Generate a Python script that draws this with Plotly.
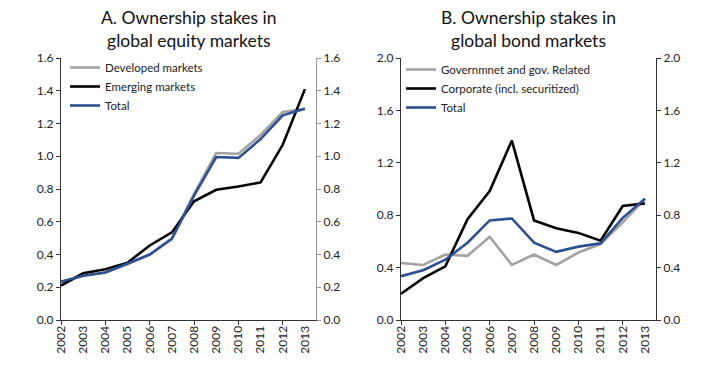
import plotly.graph_objects as go

years = list(range(2002, 2014))

# Panel A: equity
eq_developed = [0.23, 0.27, 0.29, 0.34, 0.40, 0.50, 0.77, 1.02, 1.015, 1.13, 1.27, 1.29]
eq_emerging  = [0.21, 0.285, 0.31, 0.35, 0.455, 0.535, 0.725, 0.795, 0.815, 0.84, 1.07, 1.41]
eq_total     = [0.235, 0.27, 0.29, 0.345, 0.40, 0.495, 0.76, 0.995, 0.99, 1.105, 1.25, 1.29]

# Panel B: bonds
bd_government = [0.435, 0.42, 0.50, 0.49, 0.635, 0.42, 0.50, 0.42, 0.515, 0.58, 0.745, 0.925]
bd_corporate  = [0.20, 0.32, 0.41, 0.77, 0.985, 1.37, 0.76, 0.70, 0.665, 0.605, 0.87, 0.89]
bd_total      = [0.335, 0.38, 0.46, 0.59, 0.76, 0.775, 0.59, 0.52, 0.56, 0.585, 0.78, 0.925]

titles = ["A. Ownership stakes in<br>global equity markets",
          "B. Ownership stakes in<br>global bond markets"]

GRAY = "#A3A3A3"
BLACK = "#000000"
BLUE = "#2D5092"
FONT = "Lato"
OFF = 8                      # page body margin
W, H = 719 - OFF, 369 - OFF

def fx(px):  # screen x pixel -> paper fraction
    return (px - OFF) / W

def fy(py):  # screen y pixel (from top) -> paper fraction
    return 1 - (py - OFF) / H

fig = go.Figure()

def add(x, y, name, color, xa, ya, legend):
    fig.add_trace(go.Scatter(x=x, y=y, name=name, mode="lines",
                             line=dict(color=color, width=2.6),
                             xaxis=xa, yaxis=ya, legend=legend))

add(years, eq_developed, "Developed markets", GRAY, "x", "y", "legend")
add(years, eq_emerging, "Emerging markets", BLACK, "x", "y", "legend")
add(years, eq_total, "Total", BLUE, "x", "y", "legend")
add(years, bd_government, "Governmnet and gov. Related", GRAY, "x2", "y2", "legend2")
add(years, bd_corporate, "Corporate (incl. securitized)", BLACK, "x2", "y2", "legend2")
add(years, bd_total, "Total", BLUE, "x2", "y2", "legend2")

# invisible traces so the right-hand axes are drawn
fig.add_trace(go.Scatter(x=years, y=eq_total, xaxis="x", yaxis="y3", showlegend=False,
                         line=dict(color="rgba(0,0,0,0)"), hoverinfo="skip"))
fig.add_trace(go.Scatter(x=years, y=bd_total, xaxis="x2", yaxis="y4", showlegend=False,
                         line=dict(color="rgba(0,0,0,0)"), hoverinfo="skip"))

dA = [fx(61), fx(316)]
dB = [fx(401), fx(656)]
dy = [fy(320), fy(58)]

tickfont = dict(family=FONT, size=12, color="#222")

def xaxis(domain, anchor):
    return dict(domain=domain, anchor=anchor, range=[2002, 2013.5], automargin=False,
                tickvals=years, ticktext=[str(y) for y in years], tickangle=-90,
                ticks="", showgrid=False, zeroline=False, showline=True,
                linecolor="#333", linewidth=1.2, tickfont=tickfont,
                minor=dict(tickvals=years[::2], ticks="outside", ticklen=4,
                           tickcolor="#333", showgrid=False))

def yaxis(domain, anchor, rng, dtick, side="left", overlaying=None, color="#333"):
    d = dict(domain=domain, anchor=anchor, range=rng, dtick=dtick, tick0=0,
             tickformat=".1f", ticks="outside", ticklen=4, tickcolor=color,
             showgrid=False, zeroline=False, showline=True, linecolor=color,
             linewidth=1.2, tickfont=tickfont, side=side, automargin=False)
    if overlaying:
        d["overlaying"] = overlaying
    return d

fig.update_layout(
    width=W, height=H,
    margin=dict(l=0, r=0, t=0, b=0, pad=0),
    paper_bgcolor="white", plot_bgcolor="white",
    font=dict(family=FONT, size=12, color="#222"),
    xaxis=xaxis(dA, "y"),
    xaxis2=xaxis(dB, "y2"),
    yaxis=yaxis(dy, "x", [0, 1.6], 0.2),
    yaxis3=yaxis(dy, "x", [0, 1.6], 0.2, side="right", overlaying="y", color="#999"),
    yaxis2=yaxis(dy, "x2", [0, 2.0], 0.4),
    yaxis4=yaxis(dy, "x2", [0, 2.0], 0.4, side="right", overlaying="y2"),
    legend=dict(x=fx(65), y=fy(53), xanchor="left", yanchor="top",
                bgcolor="rgba(0,0,0,0)", font=dict(family=FONT, size=11.5, color="#222"),
                tracegroupgap=0, itemwidth=30),
    legend2=dict(x=fx(401), y=fy(55), xanchor="left", yanchor="top",
                 bgcolor="rgba(0,0,0,0)", font=dict(family=FONT, size=11.5, color="#222"),
                 tracegroupgap=0, itemwidth=30),
    showlegend=True,
)

for t, cx in zip(titles, [(61 + 316) / 2, (401 + 656) / 2]):
    fig.add_annotation(text=t, x=fx(cx), y=fy(5), xref="paper", yref="paper",
                       xanchor="center", yanchor="top", showarrow=False,
                       font=dict(family=FONT, size=17.5, color="#111"))

fig.write_html("out.html")
